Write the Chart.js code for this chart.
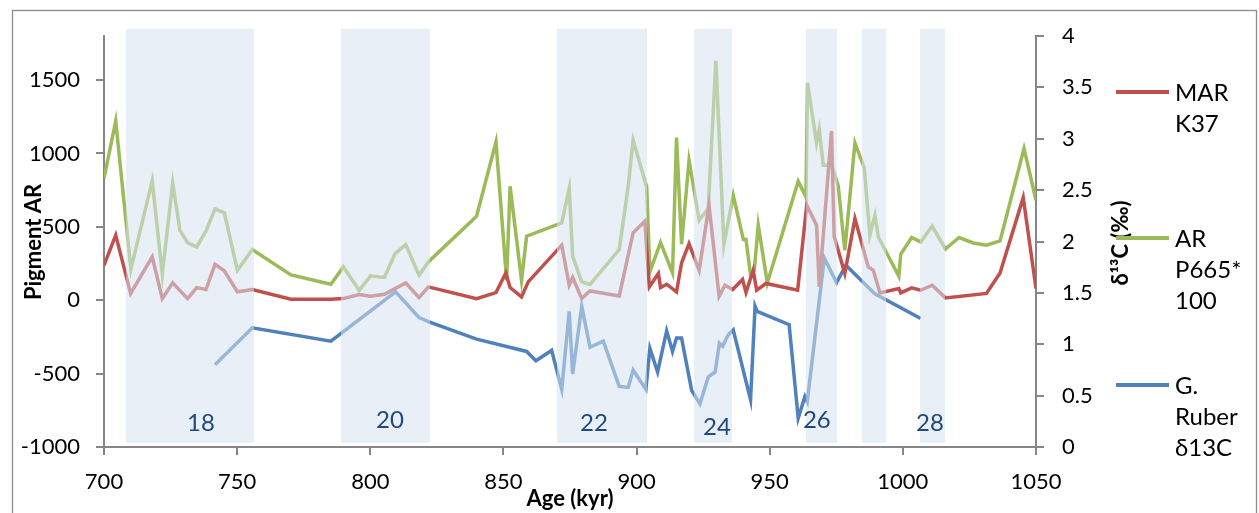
<!DOCTYPE html>
<html>
<head>
<meta charset="utf-8">
<script src="https://cdn.jsdelivr.net/npm/chart.js@4.4.0/dist/chart.umd.min.js"></script>
<style>
  html, body { margin: 0; padding: 0; background: #fff; }
  canvas { display: block; }
</style>
</head>
<body>
<canvas id="chart" width="1259" height="513"></canvas>
<script>
// ==================== DATA ====================
// MAR K37 (left axis)
const marAge = [700, 704.4, 710, 718.1, 721.9, 725.8, 731.4, 734.8, 738.3, 741.7, 745.2, 750.1, 755.7, 770.2, 785.2, 789.9, 795.8, 800.1, 805.3, 813.3, 818.3, 821.8, 839.9, 847.2, 850.9, 852.5, 856.8, 859.3, 871.9, 874.7, 876, 879.4, 882.5, 893.5, 898.7, 903.1, 904.8, 908.2, 909, 911.3, 915, 916.9, 919.7, 923.5, 927.2, 931, 933.2, 936.1, 939.8, 941.1, 943.8, 945.1, 948.6, 960.5, 963.9, 967.6, 968.6, 973.2, 974.2, 978.2, 982, 987, 988.9, 991.4, 998.5, 999.2, 1003.3, 1006.7, 1011, 1016, 1031.4, 1036.5, 1045.2, 1050];
const marK37 = [238, 443, 46, 295, 11, 118, 11, 86, 73, 245, 200, 57, 73, 7, 7, 11, 39, 27, 41, 118, 18, 91, 11, 52, 186, 86, 23, 125, 375, 102, 155, 11, 63, 29, 459, 538, 91, 182, 86, 109, 57, 254, 386, 204, 647, 27, 102, 73, 141, 52, 204, 68, 114, 68, 647, 511, 91, 1153, 436, 182, 556, 227, 204, 50, 80, 50, 84, 68, 102, 16, 46, 186, 699, 80];

// AR P665*100 (left axis)
const arAge = [700, 704.4, 710.1, 718.1, 721.9, 725.8, 728.5, 731.4, 734.8, 738.3, 741.7, 745.2, 750.1, 755.7, 770.2, 785.2, 789.9, 795.8, 800.1, 805.3, 809.3, 813.3, 818.3, 821.8, 839.9, 847.2, 851.2, 852.5, 856.8, 858.7, 871.9, 874.7, 876, 879.4, 882.5, 893.5, 896.9, 898.7, 903.8, 905, 909, 913.5, 915, 916.9, 919.7, 923.5, 926.9, 929.8, 932.8, 936.3, 940.1, 941.1, 942.8, 944.2, 945.7, 949.1, 960.7, 963.6, 964.2, 967.6, 968.6, 969.2, 970.1, 973.2, 975.7, 978.2, 982, 985.5, 987.6, 989.5, 990.8, 998.5, 999.2, 1003.3, 1006.7, 1011, 1016, 1021.1, 1026.4, 1031.4, 1036.5, 1045.5, 1050];
const arP665 = [830, 1221, 211, 813, 177, 799, 477, 390, 363, 472, 622, 595, 204, 345, 172, 109, 227, 68, 166, 155, 318, 379, 170, 261, 572, 1078, 136, 776, 136, 436, 527, 761, 300, 125, 107, 345, 783, 1090, 772, 193, 393, 186, 1108, 381, 953, 545, 625, 1630, 379, 715, 413, 413, 170, 204, 511, 118, 810, 704, 1482, 1071, 1163, 1067, 920, 920, 783, 340, 1071, 901, 443, 579, 431, 163, 313, 427, 397, 504, 349, 427, 390, 375, 404, 1033, 681];

// G. Ruber d13C (right axis)
const rubAge = [741.7, 755.7, 785.2, 809.5, 818.3, 821.8, 839.9, 858.7, 862.2, 868.1, 871.9, 874.7, 876, 879.4, 882.5, 887.5, 893.5, 896.9, 898.7, 903.5, 905, 907.9, 911.3, 913.5, 915, 916.9, 920.7, 923.8, 926.9, 929.5, 931.1, 932.3, 934.4, 936.3, 942.8, 944.5, 945.3, 957.3, 960.7, 963.2, 964.1, 970.5, 975.1, 978.6, 989.5, 1006.7];
const rubD13C = [0.80, 1.16, 1.03, 1.51, 1.26, 1.22, 1.05, 0.93, 0.84, 0.94, 0.56, 1.32, 0.71, 1.37, 0.97, 1.03, 0.59, 0.58, 0.75, 0.56, 0.96, 0.73, 1.13, 0.93, 1.06, 1.06, 0.55, 0.42, 0.68, 0.73, 1.01, 0.98, 1.09, 1.14, 0.46, 1.37, 1.32, 1.19, 0.28, 0.49, 0.44, 1.84, 1.60, 1.77, 1.49, 1.25];

// Axes
const xTicks = [700, 750, 800, 850, 900, 950, 1000, 1050];
const leftTicks = [-1000, -500, 0, 500, 1000, 1500];
const rightTicks = [0, 0.5, 1, 1.5, 2, 2.5, 3, 3.5, 4];

// Glacial stage bands (kyr) and their labels
const bandStart = [708.3, 789, 870.1, 921.6, 963.6, 984.6, 1006.4];
const bandEnd = [756.3, 822.4, 903.9, 935.8, 975.3, 993.7, 1015.8];
const stageLabels = ['18', '20', '22', '24', '26', '28'];
const stageAge = [736.4, 807.4, 884, 930.2, 967.7, 1010.2];
const stageD13C = [0.23, 0.26, 0.23, 0.19, 0.26, 0.23];

const seriesLabels = [['MAR', 'K37'], ['AR', 'P665*', '100'], ['G.', 'Ruber', 'δ13C']];

// ==================== CHART ====================
const FONT = 'Lato';
const AXIS_GREY = '#868686';
Chart.defaults.font.family = FONT;
Chart.defaults.font.size = 22;
Chart.defaults.color = '#000';

const pts = (xs, ys) => xs.map((x, i) => ({ x, y: ys[i] }));

const lineStyle = (color) => ({
  borderColor: color,
  backgroundColor: color,
  borderWidth: 3.5,
  pointRadius: 0,
  tension: 0,
  fill: false,
});

const axisGrid = { display: true, drawOnChartArea: false, drawTicks: true, tickLength: 8, color: AXIS_GREY, lineWidth: 2 };
const axisBorder = { display: true, color: AXIS_GREY, width: 2 };

const decor = {
  id: 'decor',
  beforeDraw(chart) {
    const c = chart.ctx;
    c.save();
    c.strokeStyle = '#8c8c8c';
    c.lineWidth = 1.3;
    c.strokeRect(12.5, 10.5, 1244, 530);
    c.restore();
  },
  afterDatasetsDraw(chart) {
    const c = chart.ctx;
    const x = chart.scales.x;
    const yr = chart.scales.y1;
    const top = yr.getPixelForValue(4.07);
    const bottom = yr.getPixelForValue(0.04);
    c.save();
    // bands sit over the lines, so the lines show through faded
    c.fillStyle = 'rgba(213,225,239,0.55)';
    bandStart.forEach((s, i) => {
      const x0 = x.getPixelForValue(s);
      const x1 = x.getPixelForValue(bandEnd[i]);
      c.fillRect(x0, top, x1 - x0, bottom - top);
    });
    c.fillStyle = '#1F497D';
    c.font = '24px ' + FONT;
    c.textAlign = 'center';
    c.textBaseline = 'middle';
    stageLabels.forEach((t, i) => {
      c.fillText(t, x.getPixelForValue(stageAge[i]), yr.getPixelForValue(stageD13C[i]));
    });
    c.restore();
  },
  afterDraw(chart) {
    const c = chart.ctx;
    c.save();
    c.fillStyle = '#000';
    c.font = 'bold 22px ' + FONT;
    c.textAlign = 'center';
    c.textBaseline = 'middle';
    c.fillText('Age (kyr)', 570, 499);

    c.save();
    c.translate(34, 242);
    c.rotate(-Math.PI / 2);
    c.fillText('Pigment AR', 0, 0);
    c.restore();

    c.save();
    c.translate(1121, 243);
    c.rotate(-Math.PI / 2);
    c.fillText('δ¹³C (‰)', 0, 0);
    c.restore();

    // legend
    const legendY = [92, 238, 385];
    c.font = '24px ' + FONT;
    c.textAlign = 'left';
    chart.data.datasets.forEach((ds, i) => {
      const y = legendY[i];
      c.strokeStyle = ds.borderColor;
      c.lineWidth = 4;
      c.beginPath();
      c.moveTo(1116, y);
      c.lineTo(1169, y);
      c.stroke();
      seriesLabels[i].forEach((t, j) => c.fillText(t, 1175, y + 1 + j * 31));
    });
    c.restore();
  },
};

const ctx = document.getElementById('chart').getContext('2d');
const chart = new Chart(ctx, {
  type: 'line',
  data: {
    datasets: [
      { label: 'MAR K37', data: pts(marAge, marK37), yAxisID: 'y', ...lineStyle('#C0504D') },
      { label: 'AR P665*100', data: pts(arAge, arP665), yAxisID: 'y', ...lineStyle('#9BBB59') },
      { label: 'G. Ruber δ13C', data: pts(rubAge, rubD13C), yAxisID: 'y1', ...lineStyle('#4F81BD') },
    ],
  },
  options: {
    responsive: false,
    animation: false,
    layout: { padding: { left: 0, right: 163, top: 36, bottom: 0 } },
    plugins: { legend: { display: false }, tooltip: { enabled: false } },
    scales: {
      x: {
        type: 'linear',
        min: 700,
        max: 1050,
        afterBuildTicks: (s) => { s.ticks = xTicks.map((v) => ({ value: v })); },
        afterFit: (s) => { s.height = 66; },
        ticks: { padding: 14, maxRotation: 0, callback: (v) => String(v) },
        grid: axisGrid,
        border: axisBorder,
      },
      y: {
        position: 'left',
        min: -1000,
        max: 1800,
        afterBuildTicks: (s) => { s.ticks = leftTicks.map((v) => ({ value: v })); },
        afterFit: (s) => { s.width = 104; },
        ticks: { padding: 16, callback: (v) => String(v) },
        grid: axisGrid,
        border: axisBorder,
      },
      y1: {
        position: 'right',
        min: 0,
        max: 4,
        afterBuildTicks: (s) => { s.ticks = rightTicks.map((v) => ({ value: v })); },
        afterFit: (s) => { s.width = 60; },
        ticks: { padding: 18, callback: (v) => String(v) },
        grid: axisGrid,
        border: axisBorder,
      },
    },
  },
  plugins: [decor],
});
</script>
</body>
</html>
